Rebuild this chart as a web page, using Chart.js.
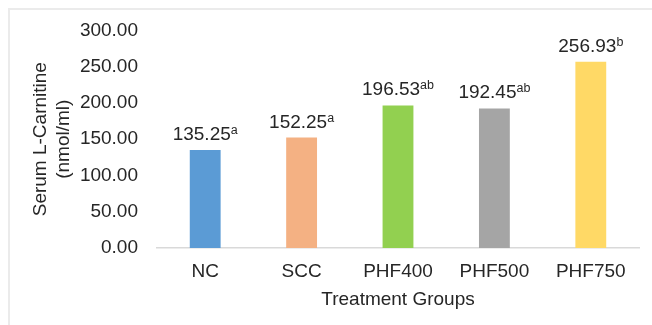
<!DOCTYPE html>
<html>
<head>
<meta charset="utf-8">
<script src="https://cdn.jsdelivr.net/npm/chart.js@4/dist/chart.umd.min.js"></script>
<style>
  html, body { margin: 0; padding: 0; background: #fff; }
  #wrap { position: relative; width: 652px; height: 325px; overflow: hidden; }
  #frame { position: absolute; left: 8px; top: 8px; width: 700px; height: 400px;
           border-left: 2px solid #ebebeb; border-top: 2px solid #ebebeb; }
  canvas { position: absolute; left: 0; top: 0; }
</style>
</head>
<body>
<div id="wrap">
  <div id="frame"></div>
  <canvas id="chart" width="652" height="325"></canvas>
</div>
<script>
const groups = ['NC', 'SCC', 'PHF400', 'PHF500', 'PHF750'];
const carnitine = [135.25, 152.25, 196.53, 192.45, 256.93];
const letters = ['a', 'a', 'ab', 'ab', 'b'];
const barColors = ['#5B9BD5', '#F4B183', '#92D050', '#A5A5A5', '#FFD966'];

const FONT = "'Liberation Sans', Arial, sans-serif";
const TEXT = '#262626';

// value labels with superscript letters, centred over each bar
const valueLabels = {
  id: 'valueLabels',
  afterDatasetsDraw(chart) {
    const ctx = chart.ctx;
    const meta = chart.getDatasetMeta(0);
    ctx.save();
    ctx.fillStyle = TEXT;
    ctx.textBaseline = 'alphabetic';
    ctx.textAlign = 'left';
    meta.data.forEach((bar, i) => {
      const main = carnitine[i].toFixed(2);
      ctx.font = '19px ' + FONT;
      const w1 = ctx.measureText(main).width;
      ctx.font = '12.5px ' + FONT;
      const w2 = ctx.measureText(letters[i]).width;
      const x0 = bar.x - (w1 + w2) / 2;
      const base = bar.y - 10;
      ctx.font = '19px ' + FONT;
      ctx.fillText(main, x0, base);
      ctx.font = '12.5px ' + FONT;
      ctx.fillText(letters[i], x0 + w1, base - 6);
    });
    ctx.restore();
  }
};

new Chart(document.getElementById('chart').getContext('2d'), {
  type: 'bar',
  data: {
    labels: groups,
    datasets: [{
      data: carnitine,
      backgroundColor: barColors,
      borderWidth: 0,
      barPercentage: 1,
      categoryPercentage: 0.32
    }]
  },
  options: {
    responsive: false,
    animation: false,
    layout: { padding: { left: 0, right: 13, top: 27, bottom: 0 } },
    plugins: {
      legend: { display: false },
      tooltip: { enabled: false }
    },
    scales: {
      x: {
        grid: { display: false, drawTicks: false },
        border: { display: true, color: '#d9d9d9', width: 1.5 },
        ticks: { color: TEXT, padding: 12.6, font: { family: FONT, size: 19 } },
        title: {
          display: true, text: 'Treatment Groups', color: TEXT,
          font: { family: FONT, size: 19, lineHeight: 1.2 },
          padding: { top: 0, bottom: 13.6 }
        },
        afterFit(scale) { scale.height = 77; }
      },
      y: {
        min: 0, max: 300,
        grid: { display: false, drawTicks: false },
        border: { display: false },
        ticks: {
          stepSize: 50, color: TEXT, padding: 19,
          font: { family: FONT, size: 19 },
          callback: (v) => Number(v).toFixed(2)
        },
        title: {
          display: true, text: ['Serum L-Carnitine', '(nmol/ml)'], color: TEXT,
          font: { family: FONT, size: 19, lineHeight: 1.2 },
          padding: { top: 29.5, bottom: 0 }
        },
        afterFit(scale) { scale.width = 157; }
      }
    }
  },
  plugins: [valueLabels]
});
</script>
</body>
</html>
